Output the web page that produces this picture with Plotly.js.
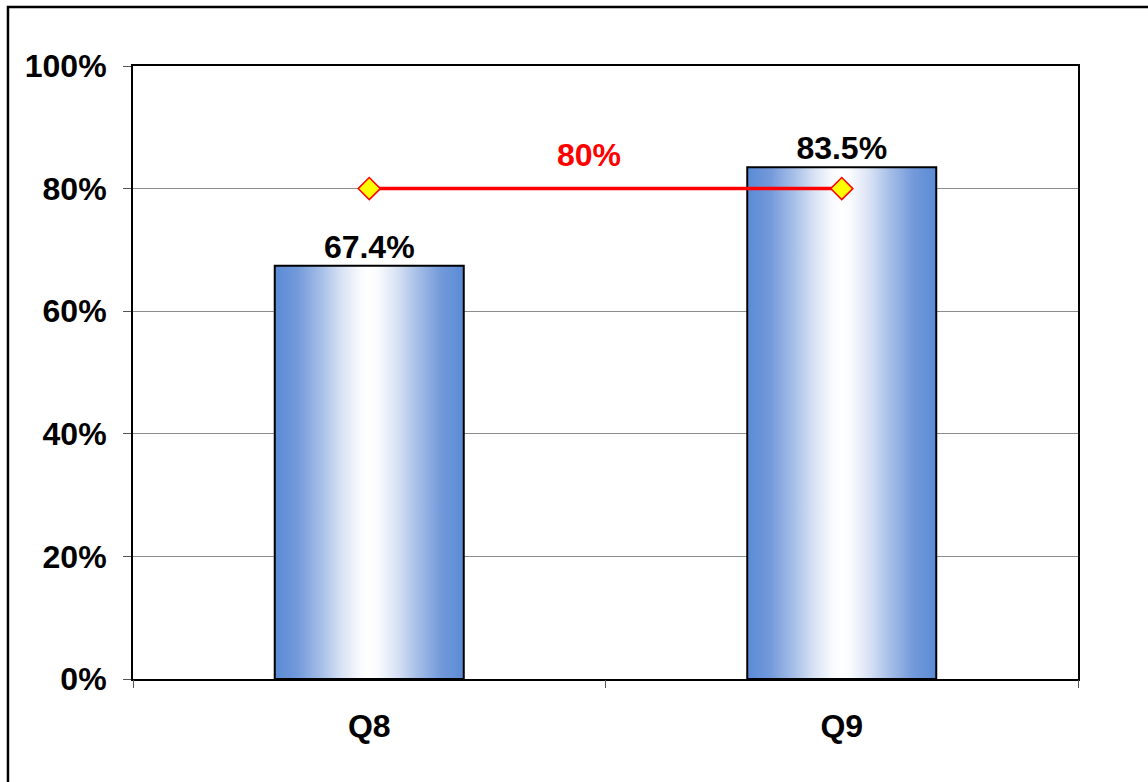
<!DOCTYPE html>
<html>
<head>
<meta charset="utf-8">
<script src="https://cdn.plot.ly/plotly-3.0.1.min.js"></script>
<style>html,body{margin:0;padding:0;background:#fff;}</style>
</head>
<body>
<div id="chart" style="width:1148px;height:782px;"></div>
<script>
// Data
var categories = ['Q8', 'Q9'];
var values = [67.4, 83.5];
var targetValue = 80;
var targetLabel = '80%';
var yTicks = [0, 20, 40, 60, 80, 100];
var yTickText = ['0%', '20%', '40%', '60%', '80%', '100%'];

var FONT = 'Liberation Sans, Arial, Helvetica, sans-serif';
var barWidth = 0.4;
var xPos = categories.map(function (c, i) { return i; });

var traces = [];
// Gradient-filled bars
values.forEach(function (v, i) {
  var x0 = xPos[i] - barWidth / 2, x1 = xPos[i] + barWidth / 2;
  traces.push({
    type: 'scatter', mode: 'lines',
    x: [x0, x0, x1, x1, x0],
    y: [0, v, v, 0, 0],
    fill: 'toself',
    fillgradient: {
      type: 'horizontal',
      colorscale: [
        [0, '#5a8bd6'], [0.12, '#7399da'], [0.25, '#a8c0e8'], [0.36, '#dbe4f5'],
        [0.45, '#f8fafd'], [0.5, '#ffffff'], [0.55, '#f8fafd'], [0.64, '#dbe4f5'],
        [0.75, '#a8c0e8'], [0.88, '#7399da'], [1, '#5a8bd6']
      ]
    },
    line: {color: '#000000', width: 2},
    hoverinfo: 'skip', showlegend: false
  });
});
// Bar value labels
traces.push({
  type: 'scatter', mode: 'text',
  x: xPos, y: values,
  text: values.map(function (v) { return v.toFixed(1) + '%'; }),
  textposition: 'top center',
  textfont: {family: FONT, size: 32, color: '#000000', weight: 'bold'},
  hoverinfo: 'skip', showlegend: false, cliponaxis: false
});
// Target line
traces.push({
  type: 'scatter', mode: 'lines+markers',
  x: xPos, y: xPos.map(function () { return targetValue; }),
  line: {color: '#ff0000', width: 3.5},
  marker: {symbol: 'diamond', size: 17, color: '#ffff00', line: {color: '#ff0000', width: 1.5}},
  hoverinfo: 'skip', showlegend: false, cliponaxis: false
});
// dummy trace for xaxis2 (boundary ticks)
traces.push({
  type: 'scatter', mode: 'none', x: [-0.5, 1.5], y: [0, 0], xaxis: 'x2', yaxis: 'y',
  hoverinfo: 'skip', showlegend: false
});

var layout = {
  width: 1148, height: 782,
  margin: {l: 133, r: 70, t: 66, b: 103},
  paper_bgcolor: '#ffffff', plot_bgcolor: '#ffffff',
  showlegend: false, hovermode: false,
  font: {family: FONT, color: '#000000'},
  xaxis: {
    range: [-0.5, 1.5], tickvals: xPos, ticktext: categories,
    ticks: '', showgrid: false, zeroline: false,
    showline: true, mirror: true, linecolor: '#000000', linewidth: 2,
    tickfont: {family: FONT, size: 32, color: '#000000', weight: 'bold'},
    ticklabelstandoff: 18
  },
  xaxis2: {
    overlaying: 'x', anchor: 'y', side: 'bottom',
    range: [-0.5, 1.5], tickvals: [-0.5, 0.5, 1.5],
    ticks: 'outside', ticklen: 8, tickcolor: '#555555', tickwidth: 1,
    showticklabels: false, showgrid: false, zeroline: false, showline: false
  },
  yaxis: {
    range: [0, 100], tickvals: yTicks, ticktext: yTickText,
    ticks: 'outside', ticklen: 8, tickcolor: '#555555', tickwidth: 1,
    showgrid: true, gridcolor: '#8c8c8c', gridwidth: 1, zeroline: false,
    showline: true, mirror: true, linecolor: '#000000', linewidth: 2,
    tickfont: {family: FONT, size: 32, color: '#000000', weight: 'bold'},
    ticklabelstandoff: 10
  },
  annotations: [{
    xref: 'x', yref: 'y', x: (xPos[0] + xPos[1]) / 2 - 0.035, y: targetValue,
    text: targetLabel, showarrow: false, yanchor: 'bottom', yshift: 14,
    font: {family: FONT, size: 32, color: '#ff0000', weight: 'bold'}
  }],
  shapes: [{
    type: 'rect', xref: 'paper', yref: 'paper',
    x0: -0.1323, x1: 1.09, y0: -0.2, y1: 1.0963,
    line: {color: '#000000', width: 2.5}, fillcolor: 'rgba(0,0,0,0)', layer: 'above'
  }]
};

Plotly.newPlot('chart', traces, layout, {displayModeBar: false, staticPlot: true});
</script>
</body>
</html>
